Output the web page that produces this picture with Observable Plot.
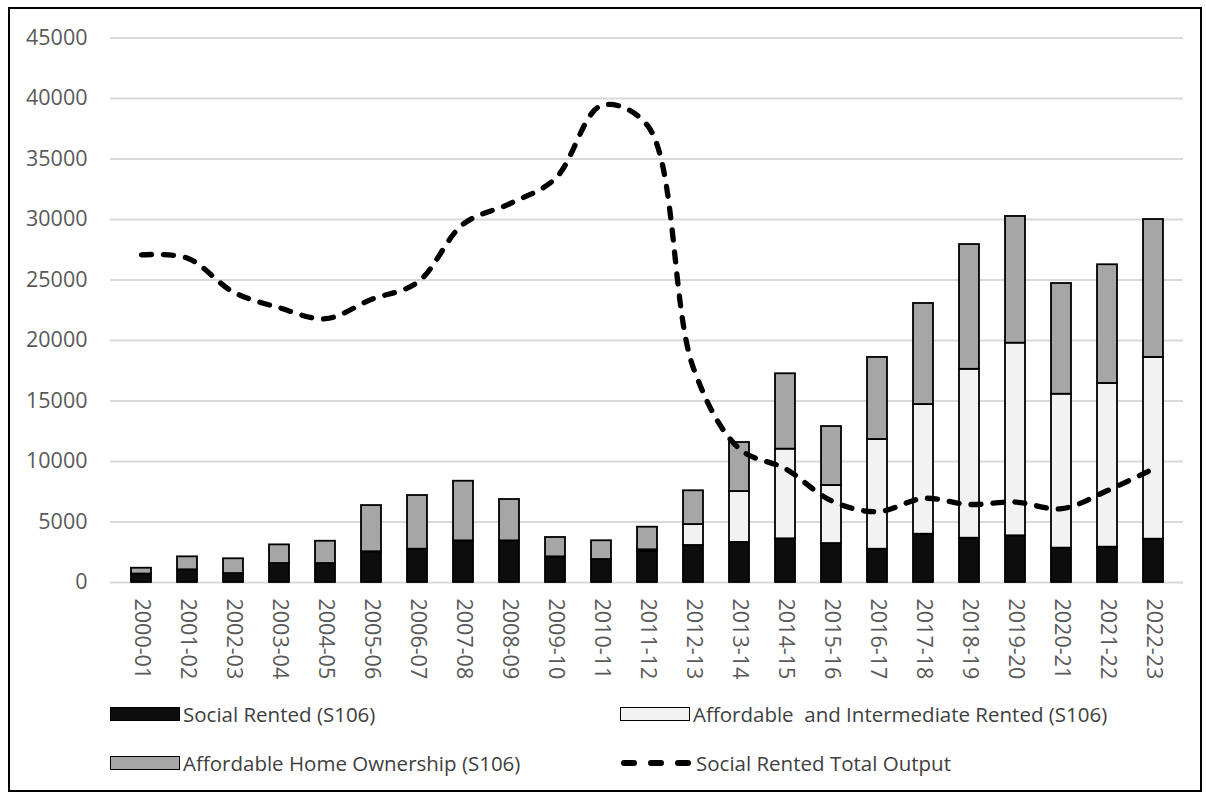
<!DOCTYPE html>
<html>
<head>
<meta charset="utf-8">
<script src="https://cdn.jsdelivr.net/npm/d3@7"></script>
<script src="https://cdn.jsdelivr.net/npm/@observablehq/plot@0.6"></script>
<style>
  html, body { margin: 0; padding: 0; background: #fff; }
  #wrap { position: relative; width: 1206px; height: 792px; overflow: hidden; font-family: "Open Sans", sans-serif; }
  #frame { position: absolute; left: 8px; top: 7px; width: 1190px; height: 781px; border: 2px solid #000; pointer-events: none; }
  .leg { position: absolute; display: flex; align-items: center; font-size: 20.5px; color: #404040; white-space: pre; }
  .sw { width: 70px; height: 14px; border: 1.5px solid #000; margin-right: 3px; box-sizing: border-box; }
</style>
</head>
<body>
<div id="wrap">
  <div id="chart"></div>
  <div id="legend"></div>
  <div id="frame"></div>
</div>
<script>
const years = ["2000-01","2001-02","2002-03","2003-04","2004-05","2005-06","2006-07","2007-08","2008-09","2009-10","2010-11","2011-12","2012-13","2013-14","2014-15","2015-16","2016-17","2017-18","2018-19","2019-20","2020-21","2021-22","2022-23"];
const socialRented = [700,1050,740,1570,1570,2540,2750,3440,3440,2120,1900,2560,3060,3310,3610,3220,2750,3990,3660,3860,2840,2920,3580];
const affordableRented = [0,0,0,0,0,0,0,0,0,0,0,140,1730,4210,7410,4800,9070,10720,13960,15920,12720,13530,15020];
const homeOwnership = [480,1070,1220,1540,1840,3820,4440,4930,3420,1600,1550,1870,2790,4050,6230,4870,6780,8350,10310,10470,9150,9810,11400];
const totalOutput = [27080,26800,24000,22700,21800,23400,24800,29640,31300,33400,39420,37770,17700,11050,9400,6750,5850,6950,6450,6650,6100,7600,9400];
const yTicks = [0,5000,10000,15000,20000,25000,30000,35000,40000,45000];

const seriesNames = ["Social Rented (S106)", "Affordable  and Intermediate Rented (S106)", "Affordable Home Ownership (S106)"];
const seriesFill = ["#0d0d0d", "#f2f2f2", "#a6a6a6"];
const lineName = "Social Rented Total Output";

const bars = [];
years.forEach((yr, i) => {
  [socialRented[i], affordableRented[i], homeOwnership[i]].forEach((v, k) => {
    if (v > 0) bars.push({year: yr, series: seriesNames[k], value: v});
  });
});
const lineData = years.map((yr, i) => ({year: yr, value: totalOutput[i]}));

const chart = Plot.plot({
  width: 1206,
  height: 690,
  marginLeft: 110,
  marginRight: 23,
  marginTop: 37.5,
  marginBottom: 108,
  style: {fontFamily: "'Open Sans', sans-serif", color: "#595959", background: "transparent"},
  x: {type: "band", domain: years, paddingInner: 0.57, paddingOuter: 0.285, label: null},
  y: {domain: [0, 45000], label: null},
  color: {domain: seriesNames, range: seriesFill},
  marks: [
    Plot.ruleY(yTicks, {stroke: "#d9d9d9", strokeWidth: 2}),
    Plot.barY(bars, Plot.stackY({x: "year", y: "value", fill: "series", stroke: "#000", strokeWidth: 1.8})),
    Plot.line(lineData, {x: "year", y: "value", stroke: "#000", strokeWidth: 5.3, strokeDasharray: "10,12", strokeLinecap: "round", curve: "catmull-rom"}),
    Plot.axisY({ticks: yTicks, tickSize: 0, tickPadding: 23, fontSize: 21.5, tickFormat: d => String(d), label: null}),
    Plot.axisX({tickSize: 0, tickPadding: 16, tickRotate: 90, fontSize: 21.5, label: null})
  ]
});
document.getElementById("chart").appendChild(chart);

// legend
const legend = document.getElementById("legend");
const items = [
  {label: seriesNames[0], fill: seriesFill[0], left: 110, top: 714},
  {label: seriesNames[1], fill: seriesFill[1], left: 620, top: 714},
  {label: seriesNames[2], fill: seriesFill[2], left: 110, top: 763},
  {label: lineName, line: true, left: 620, top: 763}
];
items.forEach(it => {
  const d = document.createElement("div");
  d.className = "leg";
  d.style.left = it.left + "px";
  d.style.top = (it.top - 14) + "px";
  d.style.height = "28px";
  if (it.line) {
    const s = document.createElementNS("http://www.w3.org/2000/svg", "svg");
    s.setAttribute("width", 72); s.setAttribute("height", 14);
    s.style.marginRight = "4px";
    const l = document.createElementNS("http://www.w3.org/2000/svg", "line");
    l.setAttribute("x1", 4); l.setAttribute("x2", 68); l.setAttribute("y1", 7); l.setAttribute("y2", 7);
    l.setAttribute("stroke", "#000"); l.setAttribute("stroke-width", 6);
    l.setAttribute("stroke-linecap", "round"); l.setAttribute("stroke-dasharray", "10,17");
    s.appendChild(l);
    d.appendChild(s);
  } else {
    const sw = document.createElement("div");
    sw.className = "sw";
    sw.style.background = it.fill;
    d.appendChild(sw);
  }
  const t = document.createElement("span");
  t.textContent = it.label;
  d.appendChild(t);
  legend.appendChild(d);
});
</script>
</body>
</html>
